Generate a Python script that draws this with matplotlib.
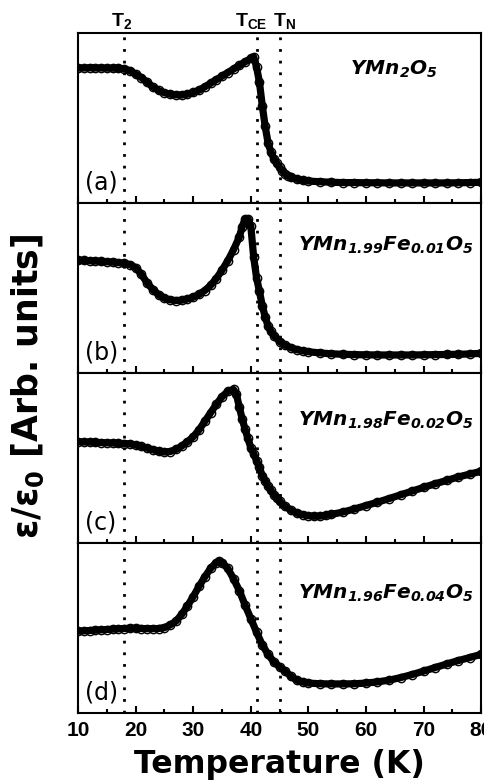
import numpy as np
import matplotlib
matplotlib.use("Agg")
import matplotlib.pyplot as plt
import matplotlib.transforms as mtransforms

plt.rcParams['font.family'] = ['Liberation Sans', 'DejaVu Sans']
plt.rcParams['mathtext.default'] = 'regular'

# panel (a) YMn2O5
t_a = [10, 11, 12, 13, 14, 15, 16, 17, 18, 19, 20, 21, 22, 23, 24, 25, 26, 27, 28, 29, 30, 31,
       32, 33, 34, 35, 36, 37, 38, 39, 40, 40.5, 41, 41.5, 42, 42.5, 43, 43.5, 44, 44.5, 45, 45.5,
       46, 46.5, 47, 48, 49, 50, 52, 54, 56, 58, 60, 62, 64, 66, 68, 70, 72, 74, 76, 78, 80]
e_a = [79.4, 79.4, 79.5, 79.4, 79.4, 79.3, 79.3, 79.2, 79.0, 77.8, 75.8, 73.8, 71.0, 68.2, 66.2,
       64.8, 64.0, 63.6, 63.5, 64.0, 65.0, 66.3, 68.3, 70.4, 72.5, 74.6, 76.7, 78.8, 80.9, 83.0,
       85.0, 85.9, 80.0, 71.0, 57.0, 45.0, 35.3, 30.0, 26.0, 23.5, 21.0, 18.8, 17.2, 16.0, 15.2,
       14.0, 13.3, 12.9, 12.5, 12.2, 12.0, 12.0, 11.9, 11.9, 11.8, 11.8, 11.8, 11.8, 11.8, 11.8,
       11.9, 12.0, 12.2]

# panel (b) YMn1.99Fe0.01O5
t_b = [10, 11, 12, 13, 14, 15, 16, 17, 18, 19, 20, 21, 22, 23, 24, 25, 26, 27, 28, 29, 30, 31,
       32, 33, 34, 35, 36, 37, 38, 38.5, 39, 39.5, 40, 40.5, 41, 41.5, 42, 42.5, 43, 43.5, 44, 45,
       46, 47, 48, 49, 50, 52, 54, 56, 58, 60, 62, 64, 66, 68, 70, 72, 74, 76, 78, 80]
e_b = [66.3, 66.2, 66.0, 65.8, 65.6, 65.4, 65.2, 64.9, 64.5, 63.8, 62.0, 58.0, 53.0, 49.0, 46.0,
       44.0, 43.0, 42.6, 42.8, 43.5, 44.6, 46.2, 48.5, 51.5, 55.5, 60.5, 66.0, 72.5, 80.0, 86.0,
       90.5, 90.8, 86.5, 68.0, 56.0, 48.0, 39.5, 33.0, 27.5, 24.5, 22.0, 18.5, 16.3, 14.8, 13.7,
       13.0, 12.5, 11.8, 11.3, 11.0, 10.8, 10.7, 10.6, 10.6, 10.6, 10.6, 10.7, 10.8, 10.9, 11.0,
       11.2, 11.6]

# panel (c) YMn1.98Fe0.02O5
t_c = [10, 11, 12, 13, 14, 15, 16, 17, 18, 19, 20, 21, 22, 23, 24, 25, 26, 27, 28, 29, 30, 31,
       32, 33, 34, 35, 36, 37, 37.5, 38, 38.5, 39, 39.5, 40, 40.5, 41, 41.5, 42, 42.5, 43, 43.5,
       44, 44.5, 45, 46, 47, 48, 49, 50, 51, 52, 53, 54, 56, 58, 60, 62, 64, 66, 68, 70, 72, 74,
       76, 78, 80]
e_c = [59.5, 59.4, 59.3, 59.2, 59.0, 58.9, 58.8, 58.6, 58.5, 58.3, 57.6, 56.8, 55.8, 54.8, 53.9,
       53.5, 53.8, 55.0, 57.0, 59.5, 62.5, 66.5, 71.5, 76.5, 81.5, 86.0, 89.2, 90.3, 87.5, 80.0,
       73.0, 67.0, 61.5, 56.0, 52.5, 48.5, 44.5, 39.5, 36.5, 33.5, 31.0, 28.5, 26.3, 24.5, 21.5,
       19.3, 17.6, 16.6, 16.0, 15.7, 15.8, 16.2, 16.8, 18.2, 20.0, 22.0, 24.0, 26.1, 28.3, 30.5,
       32.7, 34.8, 36.8, 38.8, 40.5, 42.2]

# panel (d) YMn1.96Fe0.04O5
t_d = [10, 11, 12, 13, 14, 15, 16, 17, 18, 19, 20, 21, 22, 23, 24, 25, 26, 27, 28, 29, 30, 31,
       32, 33, 34, 34.5, 35, 36, 37, 38, 39, 40, 41, 42, 43, 44, 45, 46, 47, 48, 49, 50, 52, 54,
       56, 58, 60, 62, 64, 66, 68, 70, 72, 74, 76, 78, 80]
e_d = [48.1, 48.3, 48.5, 48.7, 48.9, 49.1, 49.3, 49.5, 49.7, 49.8, 49.8, 49.7, 49.6, 49.6, 49.7,
       50.2, 51.8, 54.0, 58.0, 63.0, 68.5, 74.5, 80.0, 85.0, 88.5, 89.2, 88.5, 85.0, 79.0, 72.0,
       63.5, 55.5, 47.5, 40.0, 34.5, 30.0, 27.2, 24.5, 21.5, 19.3, 18.2, 17.6, 17.2, 17.1, 17.1,
       17.2, 17.6, 18.3, 19.3, 20.8, 22.6, 24.6, 26.7, 28.8, 30.8, 32.6, 34.5]

temps = [t_a, t_b, t_c, t_d]
eps = [e_a, e_b, e_c, e_d]
panel_tags = ['(a)', '(b)', '(c)', '(d)']
names = [r'YMn$_2$O$_5$',
         r'YMn$_{1.99}$Fe$_{0.01}$O$_5$',
         r'YMn$_{1.98}$Fe$_{0.02}$O$_5$',
         r'YMn$_{1.96}$Fe$_{0.04}$O$_5$']
name_x = [0.675, 0.546, 0.546, 0.546]
name_y = [0.755, 0.722, 0.69, 0.67]

# transition temperatures
t_lines = [18, 41, 45]
t_labels = [r'T$_2$', r'T$_{CE}$', r'T$_N$']
t_label_x = [17.6, 40.1, 45.9]

fig = plt.figure(figsize=(4.85, 7.8), dpi=100)
fig.subplots_adjust(left=0.161, right=0.992, top=0.9577, bottom=0.0859, hspace=0)
axes = fig.subplots(4, 1, sharex=True)

for i, ax in enumerate(axes):
    ax.plot(temps[i], eps[i], '-', color='k', lw=5.2, zorder=2)
    ax.plot(temps[i], eps[i], 'o', mfc='none', mec='k', ms=6, mew=1.0, zorder=3)
    for tl in t_lines:
        ax.axvline(tl, color='k', lw=2, ls=(0, (1, 3.2)), zorder=1)
    ax.set_xlim(10, 80)
    ax.set_ylim(0, 100)
    ax.set_yticks([])
    ax.set_xticks(np.arange(10, 81, 10))
    ax.set_xticks(np.arange(15, 80, 10), minor=True)
    ax.tick_params(axis='x', which='both', direction='in', top=False, width=1.5)
    ax.tick_params(axis='x', which='major', length=5)
    ax.tick_params(axis='x', which='minor', length=3)
    for sp in ax.spines.values():
        sp.set_linewidth(1.5)
    ax.text(0.017, 0.12, panel_tags[i], transform=ax.transAxes, fontsize=17,
            family='DejaVu Sans', ha='left', va='center')
    ax.text(name_x[i], name_y[i], names[i], transform=ax.transAxes, fontsize=14.5,
            family='DejaVu Sans', fontweight='bold', fontstyle='italic',
            ha='left', va='baseline')

axes[-1].tick_params(axis='x', which='major', labelsize=15, pad=6)
for lab in axes[-1].get_xticklabels():
    lab.set_fontweight('bold')
axes[-1].set_xlabel('Temperature (K)', fontsize=22.7, family='DejaVu Sans',
                    fontweight='bold', labelpad=6)

trans = mtransforms.blended_transform_factory(axes[0].transData, fig.transFigure)
for x, lab in zip(t_label_x, t_labels):
    axes[0].text(x, 1 - 31 / 780, lab, transform=trans, fontsize=14, fontweight='bold',
                 ha='center', va='bottom')

fig.text(0.058, 0.505, 'ε/ε$_0$ [Arb. units]', rotation=90, fontsize=25,
         family='DejaVu Sans', fontweight='bold', ha='center', va='center')

fig.savefig('out.png', dpi=100)
